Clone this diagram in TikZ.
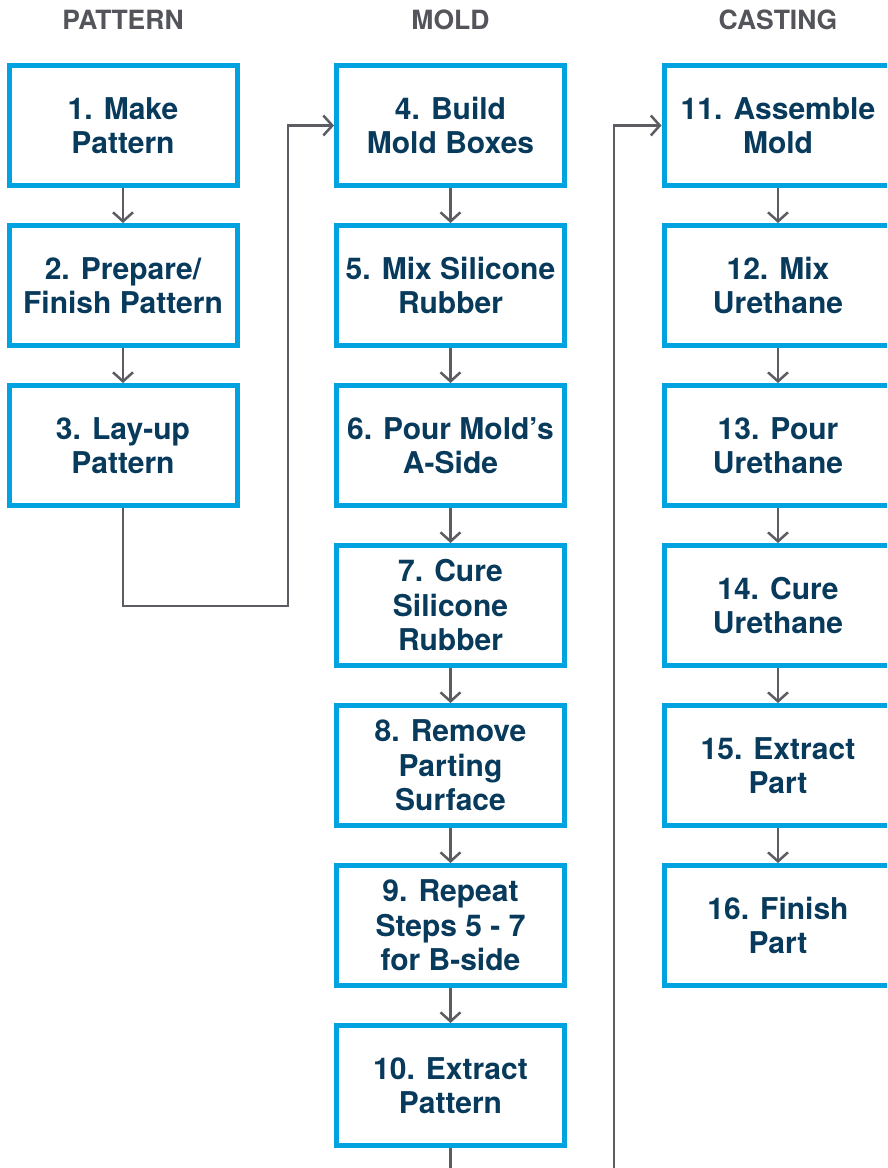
\documentclass[tikz,border=0pt]{standalone}
\usepackage{fontspec}
\setmainfont{TeX Gyre Heros}
\usetikzlibrary{arrows.meta, positioning}
\definecolor{boxblue}{RGB}{0,163,224}
\definecolor{textnavy}{RGB}{8,58,92}
\definecolor{headgray}{RGB}{84,85,90}
\definecolor{linegray}{RGB}{92,92,98}

\begin{document}
\begin{tikzpicture}[
  x=1pt, y=1pt,
  node distance=35pt and 94.5pt,
  stepbox/.style={draw=boxblue, line width=5pt, fill=white, rectangle,
                  minimum width=228pt, minimum height=120pt, inner sep=2pt,
                  font=\fontsize{30}{34.5}\selectfont\bfseries, text=textnavy, align=center},
  header/.style={font=\fontsize{26.5}{30}\selectfont\bfseries, text=headgray, inner sep=0pt},
  flow/.style={-{Straight Barb[length=9pt,width=20pt]}, line width=2.5pt, linegray},
]
\useasboundingbox (0,0) rectangle (887,-1168);
\clip (0,0) rectangle (887,-1168);

%% Pattern column
\node[stepbox] (b1) at (123,-125.5) {1. Make\\Pattern};
\node[stepbox, below=of b1] (b2) {2. Prepare/\\Finish Pattern};
\node[stepbox, below=of b2] (b3) {3. Lay-up\\Pattern};

%% Mold column
\node[stepbox, right=of b1] (b4) {4. Build\\Mold Boxes};
\node[stepbox, below=of b4] (b5) {5. Mix Silicone\\Rubber};
\node[stepbox, below=of b5] (b6) {6. Pour Mold’s\\A-Side};
\node[stepbox, below=of b6] (b7) {7. Cure\\Silicone\\Rubber};
\node[stepbox, below=of b7] (b8) {8. Remove\\Parting\\Surface};
\node[stepbox, below=of b8] (b9) {9. Repeat\\Steps 5 - 7\\for B-side};
\node[stepbox, below=of b9] (b10) {10. Extract\\Pattern};

%% Casting column
\node[stepbox, right=of b4] (b11) {11. Assemble\\Mold};
\node[stepbox, below=of b11] (b12) {12. Mix\\Urethane};
\node[stepbox, below=of b12] (b13) {13. Pour\\Urethane};
\node[stepbox, below=of b13] (b14) {14. Cure\\Urethane};
\node[stepbox, below=of b14] (b15) {15. Extract\\Part};
\node[stepbox, below=of b15] (b16) {16. Finish\\Part};

%% Column headers
\node[header, above=33pt of b1] (hpat) {PATTERN};
\node[header, above=33pt of b4] (hmold) {MOLD};
\node[header, above=33pt of b11] (hcast) {CASTING};

%% Straight steps
\draw[flow] (b1) -- (b2);
\draw[flow] (b2) -- (b3);
\draw[flow] (b4) -- (b5);
\draw[flow] (b5) -- (b6);
\draw[flow] (b6) -- (b7);
\draw[flow] (b7) -- (b8);
\draw[flow] (b8) -- (b9);
\draw[flow] (b9) -- (b10);
\draw[flow] (b11) -- (b12);
\draw[flow] (b12) -- (b13);
\draw[flow] (b13) -- (b14);
\draw[flow] (b14) -- (b15);
\draw[flow] (b15) -- (b16);

%% Jumps between columns
\coordinate (jog1) at (288,-606);
\coordinate (jog2) at (614,-1200);
\draw[flow] (b3.south) |- (jog1) |- (b4.west);
\draw[flow] (b10.south) |- (jog2) |- (b11.west);

\end{tikzpicture}
\end{document}
